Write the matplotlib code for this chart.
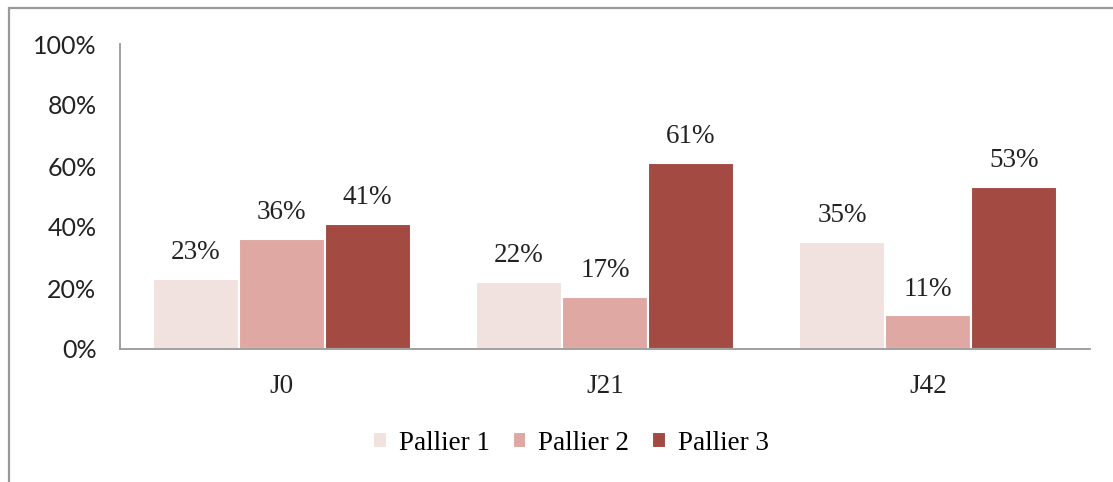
import matplotlib.pyplot as plt
import numpy as np
from matplotlib.patches import Rectangle

# data
categories = ['J0', 'J21', 'J42']
series_names = ['Pallier 1', 'Pallier 2', 'Pallier 3']
pallier1 = [23, 22, 35]
pallier2 = [36, 17, 11]
pallier3 = [41, 61, 53]
colors = ['#F2E2DF', '#DFA8A3', '#A34A42']
yticks = [0, 20, 40, 60, 80, 100]

serif = 'Liberation Serif'
sans = 'Lato'

fig = plt.figure(figsize=(11.13, 4.82), dpi=100)
ax = fig.add_axes([120 / 1113, 133 / 482, 970 / 1113, 305 / 482])

x = np.arange(len(categories))
width = 0.266
for i, (vals, name) in enumerate(zip([pallier1, pallier2, pallier3], series_names)):
    bars = ax.bar(x + (i - 1) * width, vals, width, color=colors[i],
                  edgecolor='white', linewidth=1.5, label=name, zorder=2)
    for b, v in zip(bars, vals):
        ax.annotate('{}%'.format(v), (b.get_x() + b.get_width() / 2, v),
                    xytext=(0, 10), textcoords='offset points',
                    ha='center', va='bottom', fontsize=19.5,
                    family=serif, color='#222222')

ax.set_xlim(-0.5, len(categories) - 0.5)
ax.set_ylim(0, 100)
ax.set_yticks(yticks)
ax.set_yticklabels(['{}%'.format(t) for t in yticks], family=sans,
                   fontsize=18, color='#222222')
ax.set_xticks(x)
ax.set_xticklabels(categories, family=serif, fontsize=19.5, color='#222222')
ax.tick_params(axis='y', length=0, pad=17)
ax.tick_params(axis='x', length=0, pad=18)

for s in ['top', 'right']:
    ax.spines[s].set_visible(False)
for s in ['left', 'bottom']:
    ax.spines[s].set_color('#999999')
    ax.spines[s].set_linewidth(1.3)

leg = fig.legend(loc='center', bbox_to_anchor=(571 / 1113, 1 - 443 / 482),
                 ncol=3, frameon=False, prop={'family': serif, 'size': 19.5},
                 handlelength=0.5, handleheight=0.5, handletextpad=0.45,
                 columnspacing=0.85)

# outer chart frame (only top and left edges visible)
fig.patches.append(Rectangle((9 / 1113, -0.1), 1.2, 1 - 8 / 482 + 0.1,
                             transform=fig.transFigure, fill=False,
                             edgecolor='#999999', linewidth=1.6))

fig.savefig('out.png', dpi=100)
